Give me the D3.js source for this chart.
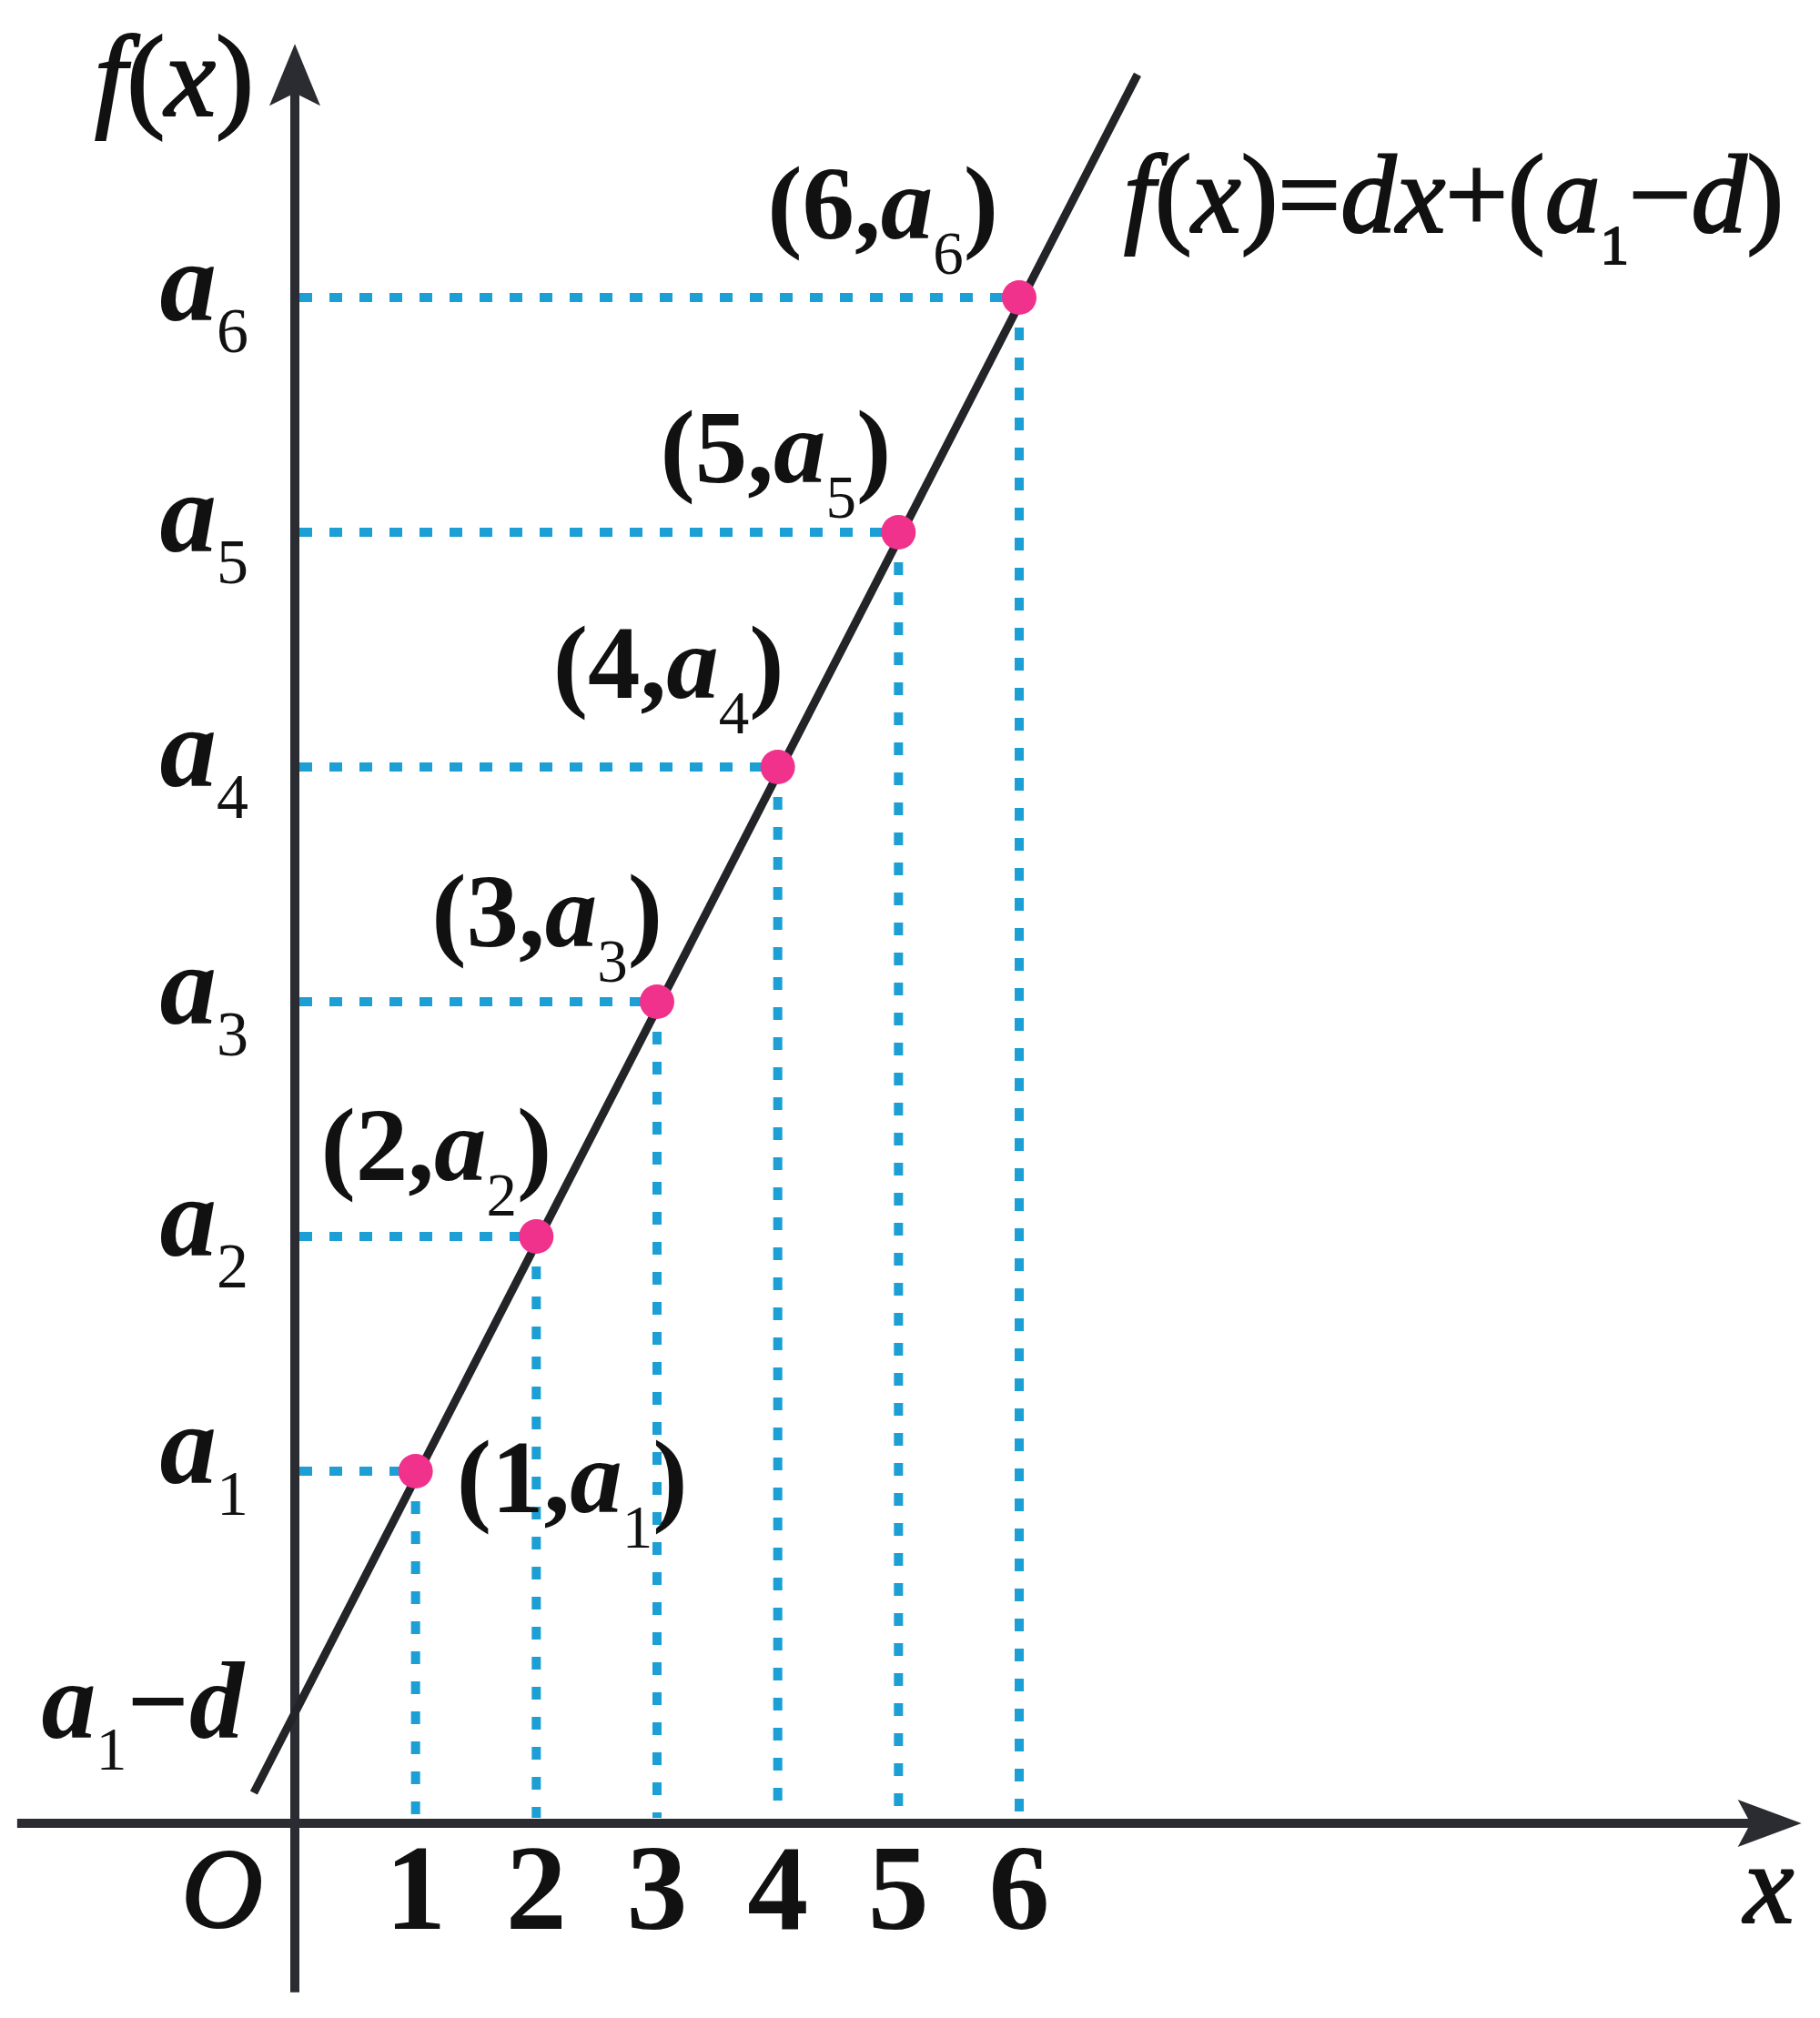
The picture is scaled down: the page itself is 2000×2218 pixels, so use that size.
<!DOCTYPE html>
<meta charset="utf-8">
<script src="https://d3js.org/d3.v7.min.js"></script>
<style>
  body { margin: 0; background: #fff; }
  text { font-family: "Liberation Serif", "Times New Roman", serif; fill: #111; }
  .heavy { stroke: #111; stroke-width: 2.2px; }
</style>
<svg id="chart" width="2000" height="2218"></svg>
<script>
    // values (one unit of d on the vertical axis)
    var xValues = [1, 2, 3, 4, 5, 6];
    var tickLabels = ["1", "2", "3", "4", "5", "6"];
    var seqValues = [1.5, 2.5, 3.5, 4.5, 5.5, 6.5];   // a1 .. a6
    var subscripts = ["1", "2", "3", "4", "5", "6"];
    var interceptValue = 0.5;                           // a1 - d
    var lineXs = [-0.34, 6.98];
    var lineYs = [0.13, 7.45];
    var xAxisRange = [-2.3, 12.48];
    var yAxisRange = [-0.72, 7.58];

    // label placement (pixels, relative to each point)
    var pointLabelLayout = [
        { dx: 45, dy: 45, anchor: "start" },
        { dx: 17, dy: -62, anchor: "end" },
        { dx: 6, dy: -61, anchor: "end" },
        { dx: 7, dy: -76, anchor: "end" },
        { dx: -8, dy: -55, anchor: "end" },
        { dx: -23, dy: -65, anchor: "end" }
    ];
    var leftLabelDy = [13, 21, 24, 21, 21, 25];

    var svg = d3.select("#chart");

    var x = d3.scaleLinear().domain([0, 6]).range([324, 1120]);
    var y = d3.scaleLinear().domain([0, 6.5]).range([2004, 327]);

    var blue = "#1c9fd4", pink = "#f0328c", axisColor = "#2a2c31";

    // dotted guides
    var guides = svg.append("g")
        .attr("stroke", blue)
        .attr("stroke-width", 10)
        .attr("stroke-dasharray", "14,19");

    guides.selectAll("line.h")
        .data(seqValues)
        .enter().append("line")
        .attr("class", "h")
        .attr("x1", x(0) + 5)
        .attr("x2", function(d, i) { return x(xValues[i]); })
        .attr("y1", function(d) { return y(d); })
        .attr("y2", function(d) { return y(d); });

    guides.selectAll("line.v")
        .data(seqValues)
        .enter().append("line")
        .attr("class", "v")
        .attr("x1", function(d, i) { return x(xValues[i]); })
        .attr("x2", function(d, i) { return x(xValues[i]); })
        .attr("y1", function(d) { return y(d); })
        .attr("y2", y(0) - 6);

    // axes
    svg.append("line")
        .attr("x1", x(0)).attr("x2", x(0))
        .attr("y1", y(yAxisRange[0])).attr("y2", y(yAxisRange[1]) + 40)
        .attr("stroke", axisColor).attr("stroke-width", 10);
    svg.append("line")
        .attr("x1", x(xAxisRange[0])).attr("x2", x(xAxisRange[1]) - 40)
        .attr("y1", y(0)).attr("y2", y(0))
        .attr("stroke", axisColor).attr("stroke-width", 10);

    var ty = y(yAxisRange[1]), tx = x(xAxisRange[1]);
    svg.append("path")
        .attr("d", "M" + x(0) + "," + ty + " L" + (x(0) + 28) + "," + (ty + 68) +
            " L" + x(0) + "," + (ty + 54) + " L" + (x(0) - 28) + "," + (ty + 68) + "Z")
        .attr("fill", axisColor);
    svg.append("path")
        .attr("d", "M" + tx + "," + y(0) + " L" + (tx - 70) + "," + (y(0) + 26) +
            " L" + (tx - 56) + "," + y(0) + " L" + (tx - 70) + "," + (y(0) - 26) + "Z")
        .attr("fill", axisColor);

    // f(x) line
    svg.append("path")
        .datum(d3.zip(lineXs, lineYs))
        .attr("d", d3.line().x(function(d) { return x(d[0]); }).y(function(d) { return y(d[1]); }))
        .attr("stroke", "#222428")
        .attr("stroke-width", 9)
        .attr("fill", "none");

    // points
    svg.selectAll("circle")
        .data(seqValues)
        .enter().append("circle")
        .attr("cx", function(d, i) { return x(xValues[i]); })
        .attr("cy", function(d) { return y(d); })
        .attr("r", 19)
        .attr("fill", pink);

    // point labels (n, a_n)
    seqValues.forEach(function(v, i) {
        var lay = pointLabelLayout[i];
        var t = svg.append("text")
            .attr("x", x(xValues[i]) + lay.dx)
            .attr("y", y(v) + lay.dy)
            .attr("text-anchor", lay.anchor)
            .style("font-size", "115px")
            .style("font-weight", "bold");
        t.append("tspan").text("(" + tickLabels[i] + ",");
        t.append("tspan").style("font-style", "italic").text("a");
        t.append("tspan").attr("dy", 39).style("font-size", "67px").style("font-weight", "normal").text(subscripts[i]);
        t.append("tspan").attr("dy", -39).text(")");
    });

    // left labels a_n
    seqValues.forEach(function(v, i) {
        var t = svg.append("text")
            .attr("x", x(0) - 51)
            .attr("y", y(v) + leftLabelDy[i])
            .attr("text-anchor", "end")
            .style("font-size", "125px");
        t.append("tspan").style("font-style", "italic").style("font-weight", "bold").text("a");
        t.append("tspan").attr("dy", 35).style("font-size", "70px").text(subscripts[i]);
    });

    // a1 - d
    var ic = svg.append("text")
        .attr("x", x(0) - 56)
        .attr("y", y(interceptValue) + 35)
        .attr("text-anchor", "end")
        .style("font-size", "120px");
    ic.append("tspan").style("font-style", "italic").style("font-weight", "bold").text("a");
    ic.append("tspan").attr("dy", 35).style("font-size", "68px").text("1");
    ic.append("tspan").attr("dy", -35).style("font-weight", "bold").text("\u2212");
    ic.append("tspan").style("font-style", "italic").style("font-weight", "bold").text("d");

    // x tick labels
    svg.selectAll("text.tick")
        .data(xValues)
        .enter().append("text")
        .attr("class", "tick")
        .attr("x", function(d) { return x(d); })
        .attr("y", y(0) + 116)
        .attr("text-anchor", "middle")
        .style("font-size", "134px")
        .style("font-weight", "bold")
        .text(function(d, i) { return tickLabels[i]; });

    // origin, axis titles
    svg.append("text")
        .attr("class", "heavy")
        .attr("x", x(0) - 80).attr("y", y(0) + 114)
        .attr("text-anchor", "middle")
        .style("font-size", "124px").style("font-style", "italic")
        .text("O");
    svg.append("text")
        .attr("class", "heavy")
        .attr("x", x(xAxisRange[1]) - 36).attr("y", y(0) + 109)
        .attr("text-anchor", "middle")
        .style("font-size", "124px").style("font-style", "italic")
        .text("x");

    var fy = svg.append("text")
        .attr("class", "heavy")
        .attr("x", x(0) - 45).attr("y", 127)
        .attr("text-anchor", "end")
        .style("font-size", "126px");
    fy.append("tspan").style("font-style", "italic").text("f");
    fy.append("tspan").text("(");
    fy.append("tspan").style("font-style", "italic").text("x");
    fy.append("tspan").text(")");

    // formula
    var fm = svg.append("text")
        .attr("class", "heavy")
        .attr("x", 1235).attr("y", 255)
        .style("font-size", "122px");
    var parts = [["f", 1], ["(", 0], ["x", 1], [")=", 0], ["dx", 1], ["+(", 0], ["a", 1]];
    parts.forEach(function(p) {
        fm.append("tspan").style("font-style", p[1] ? "italic" : "normal").text(p[0]);
    });
    fm.append("tspan").attr("dy", 35).style("font-size", "62px").text("1");
    fm.append("tspan").attr("dy", -35).text("\u2212");
    fm.append("tspan").style("font-style", "italic").text("d");
    fm.append("tspan").text(")");
</script>
